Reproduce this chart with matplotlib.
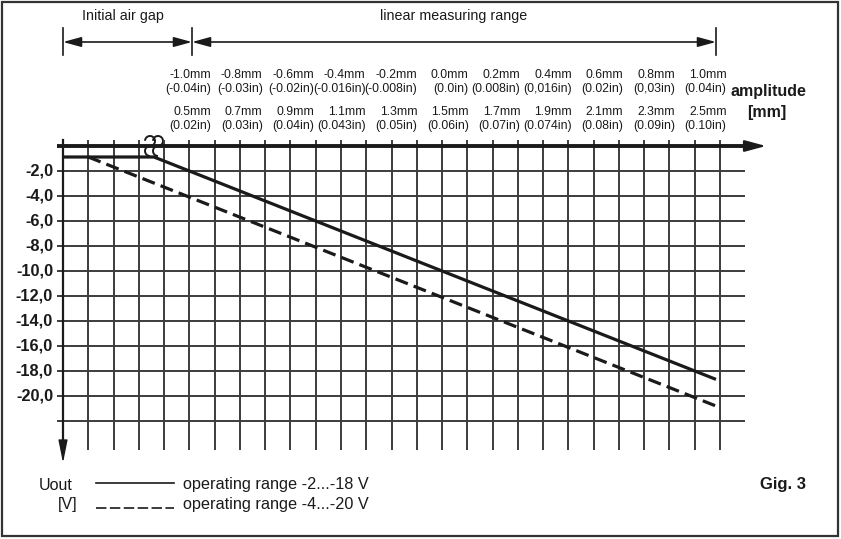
import matplotlib
matplotlib.use("Agg")
import matplotlib.pyplot as plt
from matplotlib.patches import Arc, Rectangle

plt.rcParams['font.family'] = ['Liberation Sans', 'DejaVu Sans']
plt.rcParams['lines.scale_dashes'] = False

# grid: x = air gap in mm (one column = 0.1 mm), y = output voltage in V
grid_mm = [i / 10 for i in range(27)]
grid_volts = [-2, -4, -6, -8, -10, -12, -14, -16, -18, -20, -22]
ytick_labels = ['-2,0', '-4,0', '-6,0', '-8,0', '-10,0', '-12,0', '-14,0',
                '-16,0', '-18,0', '-20,0']

# characteristic curves
solid_mm = [0.0, 0.36, 2.584]
solid_v = [-0.88, -0.88, -18.67]
dashed_mm = [0.10, 2.584]
dashed_v = [-0.88, -20.8]

# amplitude labels above the grid
row1_mm = ['-1.0mm', '-0.8mm', '-0.6mm', '-0.4mm', '-0.2mm', '0.0mm',
           '0.2mm', '0.4mm', '0.6mm', '0.8mm', '1.0mm']
row1_in = ['(-0.04in)', '(-0.03in)', '(-0.02in)', '(-0.016in)', '(-0.008in)',
           '(0.0in)', '(0.008in)', '(0,016in)', '(0.02in)', '(0,03in)', '(0.04in)']
row2_mm = ['0.5mm', '0.7mm', '0.9mm', '1.1mm', '1.3mm', '1.5mm',
           '1.7mm', '1.9mm', '2.1mm', '2.3mm', '2.5mm']
row2_in = ['(0.02in)', '(0.03in)', '(0.04in)', '(0.043in)', '(0.05in)',
           '(0.06in)', '(0.07in)', '(0.074in)', '(0.08in)', '(0.09in)', '(0.10in)']
label_gap = [0.5, 0.7, 0.9, 1.1, 1.3, 1.5, 1.7, 1.9, 2.1, 2.3, 2.5]

W, H = 841, 539
PX_MM = 252.7   # pixels per mm
PX_V = 12.5     # pixels per volt
X0, Y0 = 63, 146


def px(x, y):
    # pixel position -> data position (layout helper for annotations)
    return (x - X0) / PX_MM, (Y0 - y) / PX_V


fig = plt.figure(figsize=(W / 100, H / 100), dpi=100)
ax = fig.add_axes([0, 0, 1, 1])
ax.set_xlim(px(0, 0)[0], px(W, 0)[0])
ax.set_ylim(px(0, H)[1], px(0, 0)[1])
ax.axis('off')

gc = '#3c3c3c'
lc = '#1a1a1a'

# grid
ax.vlines(grid_mm[1:], px(0, 450)[1], px(0, 140)[1], color=gc, lw=1.4)
ax.hlines(grid_volts, px(57, 0)[0], px(745, 0)[0], color=gc, lw=1.4)

# top (x) axis with arrow
ax.plot([px(57, 0)[0], 2.70], [0, 0], color=lc, lw=2.8, solid_capstyle='butt')
ax.annotate('', xy=(px(766, 0)[0], 0), xytext=(2.68, 0),
            arrowprops=dict(arrowstyle='-|>,head_length=1.3,head_width=0.35',
                            mutation_scale=10, color=lc, lw=1.5,
                            shrinkA=0, shrinkB=0))
# left (y) axis pointing down
ax.plot([0, 0], [px(0, 140)[1], px(0, 445)[1]], color=lc, lw=1.6)
ax.annotate('', xy=(0, px(0, 463)[1]), xytext=(0, px(0, 440)[1]),
            arrowprops=dict(arrowstyle='-|>,head_length=1.4,head_width=0.28',
                            mutation_scale=10, color=lc, lw=1,
                            shrinkA=0, shrinkB=0))

# y tick labels
for v, t in zip(grid_volts, ytick_labels):
    ax.text(px(53, 0)[0], v, t, ha='right', va='center', fontsize=11.8,
            fontweight='bold', color=lc)

# curves
ax.plot(solid_mm, solid_v, color=lc, lw=2.3, solid_capstyle='butt')
ax.plot(dashed_mm, dashed_v, color=lc, lw=2.3, linestyle=(0, (9.5, 4.5)),
        dash_capstyle='butt')

# break marks on the flat part
for cx in (150, 158):
    x, y = px(cx, 141)
    ax.add_patch(Arc((x, y), 10 / PX_MM, 10 / PX_V, theta1=-90, theta2=140,
                     color=lc, lw=1.4))
    x, y = px(cx, 151)
    ax.add_patch(Arc((x, y), 10 / PX_MM, 10 / PX_V, theta1=90, theta2=270,
                     color=lc, lw=1.4))

# amplitude labels
for g, a, b, c, d in zip(label_gap, row1_mm, row1_in, row2_mm, row2_in):
    xr = g * 1.02 + 0.076
    for txt, yy in ((a, 75), (b, 89), (c, 112), (d, 126)):
        ax.text(xr, px(0, yy)[1], txt, ha='right', va='center',
                fontsize=8.8, color=lc)

ax.text(*px(730, 91), 'amplitude', ha='left', va='center', fontsize=11.5,
        fontweight='bold', color=lc)
ax.text(*px(767, 112), '[mm]', ha='center', va='center', fontsize=11.5,
        fontweight='bold', color=lc)

# dimension lines at the top
ax.text(*px(123, 16), 'Initial air gap', ha='center', va='center',
        fontsize=10.3, color=lc)
ax.text(*px(454, 16), 'linear measuring range', ha='center', va='center',
        fontsize=10.3, color=lc)
ydim = px(0, 42)[1]
for xb in (63, 192, 716):
    xx = px(xb, 0)[0]
    ax.plot([xx, xx], [px(0, 28)[1], px(0, 55)[1]], color=lc, lw=1.2)
for xa, xb in ((63, 192), (192, 716)):
    ax.annotate('', xy=(px(xb, 0)[0], ydim), xytext=(px(xa, 0)[0], ydim),
                arrowprops=dict(arrowstyle='<|-|>,head_length=1.1,head_width=0.3',
                                mutation_scale=10, color=lc, lw=1.2,
                                shrinkA=0, shrinkB=0))

# legend
ax.text(*px(39, 485), 'Uout', ha='left', va='center', fontsize=11.5, color=lc)
ax.text(*px(77, 504), '[V]', ha='right', va='center', fontsize=11.5, color=lc)
ax.plot([px(96, 0)[0], px(174, 0)[0]], [px(0, 483)[1]] * 2, color=lc, lw=1.2)
ax.plot([px(96, 0)[0], px(174, 0)[0]], [px(0, 508)[1]] * 2, color=lc, lw=1.2,
        linestyle=(0, (7.5, 2.5)))
ax.text(*px(183, 485), 'operating range -2...-18 V', ha='left', va='center',
        fontsize=11.7, color=lc)
ax.text(*px(183, 504), 'operating range -4...-20 V', ha='left', va='center',
        fontsize=11.7, color=lc)
ax.text(*px(806, 484), 'Gig. 3', ha='right', va='center', fontsize=12,
        fontweight='bold', color=lc)

# frame around the whole picture
fig.patches.append(Rectangle((1.5 / W, 3 / H), 836.5 / W, 534.5 / H,
                             transform=fig.transFigure, fill=False,
                             edgecolor='#333333', lw=1.6))

fig.savefig('out.png', dpi=100)
